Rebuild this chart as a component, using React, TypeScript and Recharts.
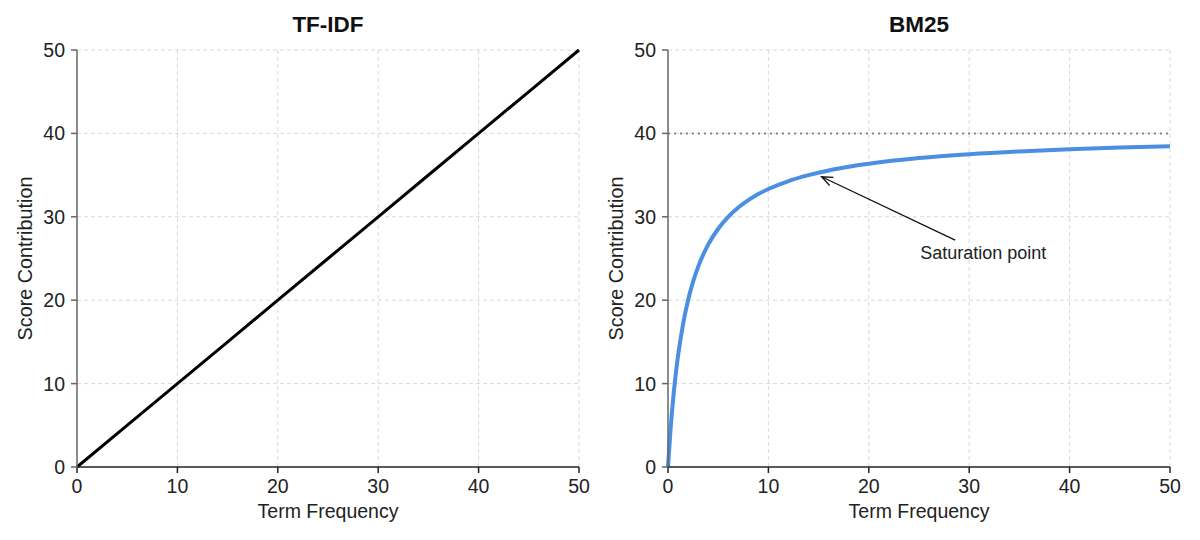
import React from "react";
import {
  LineChart,
  Line,
  XAxis,
  YAxis,
  CartesianGrid,
  ReferenceLine,
  ReferenceDot,
} from "recharts";

// ---- data ----
const tfidfFreq = [0, 10, 20, 30, 40, 50];
const tfidfScore = [0, 10, 20, 30, 40, 50];

const bm25Freq = [0, 0.25, 0.5, 0.75, 1, 1.5, 2, 2.5, 3, 4, 5, 6, 7, 8, 9, 10, 12, 14, 16, 18, 20, 25, 30, 35, 40, 45, 50];
const bm25Score = [0, 4.44, 8.0, 10.91, 13.33, 17.14, 20.0, 22.22, 24.0, 26.67, 28.57, 30.0, 31.11, 32.0, 32.73, 33.33, 34.29, 35.0, 35.56, 36.0, 36.36, 37.04, 37.5, 37.84, 38.1, 38.3, 38.46];

const axisTicks = [0, 10, 20, 30, 40, 50];
const saturationLimit = 40;
const annotationText = "Saturation point";
const arrowTail = { x: 28.6, y: 27.2 };
const arrowTip = { x: 15.3, y: 34.8 };
const annotationPos = { x: 31.4, y: 25.7 };

const tfidfData = tfidfFreq.map((f, i) => ({ tf: f, score: tfidfScore[i] }));
const bm25Data = bm25Freq.map((f, i) => ({ tf: f, score: bm25Score[i] }));

const FONT = "'Liberation Sans', Arial, sans-serif";
const tickStyle = { fontSize: 19.5, fill: "#222" };

const Arrow = (props: any) => {
  const { x1, y1, x2, y2 } = props;
  const dx = x2 - x1;
  const dy = y2 - y1;
  const len = Math.sqrt(dx * dx + dy * dy) || 1;
  const ux = dx / len;
  const uy = dy / len;
  const hl = 11;
  const hw = 4.5;
  const bx = x2 - ux * hl;
  const by = y2 - uy * hl;
  const px = -uy;
  const py = ux;
  return (
    <g>
      <line x1={x1} y1={y1} x2={x2} y2={y2} stroke="#111" strokeWidth={1.3} />
      <path
        d={`M${bx + px * hw},${by + py * hw} L${x2},${y2} L${bx - px * hw},${by - py * hw}`}
        fill="none"
        stroke="#111"
        strokeWidth={1.3}
      />
    </g>
  );
};

const AnnotationText = (props: any) => (
  <text
    x={props.cx}
    y={props.cy}
    textAnchor="middle"
    dominantBaseline="central"
    fontSize={18}
    fill="#222"
    fontFamily={FONT}
  >
    {annotationText}
  </text>
);

function Panel(props: {
  data: any[];
  title: string;
  left: number;
  width: number;
  yAxisWidth: number;
  rightMargin: number;
  labelOffset: number;
  stroke: string;
  strokeWidth: number;
  bm25?: boolean;
}) {
  const { data, title, left, width, yAxisWidth, rightMargin, labelOffset, stroke, strokeWidth, bm25 } = props;
  const plotLeft = yAxisWidth;
  const plotWidth = width - yAxisWidth - rightMargin;
  return (
    <div style={{ position: "absolute", left, top: 0, width, height: 540 }}>
      <div
        style={{
          position: "absolute",
          left: plotLeft,
          width: plotWidth,
          top: 12,
          textAlign: "center",
          fontWeight: "bold",
          fontSize: 22.5,
          color: "#111",
          fontFamily: FONT,
        }}
      >
        {title}
      </div>
      <LineChart
        width={width}
        height={540}
        data={data}
        margin={{ top: 50, right: rightMargin, left: 0, bottom: 0 }}
      >
        <CartesianGrid stroke="#d9d9d9" strokeDasharray="4 3" horizontalValues={[10, 20, 30, 40, 50]} verticalValues={[10, 20, 30, 40, 50]} />
        <XAxis
          dataKey="tf"
          type="number"
          domain={[0, 50]}
          ticks={axisTicks}
          interval={0}
          height={73}
          tick={tickStyle}
          tickSize={6}
          tickMargin={6}
          axisLine={{ stroke: "#222", strokeWidth: 1.5 }}
          tickLine={{ stroke: "#222", strokeWidth: 1.5 }}
          label={{ value: "Term Frequency", position: "insideBottom", offset: 22, style: { fontSize: 19.5, fill: "#222", textAnchor: "middle" } }}
        />
        <YAxis
          type="number"
          domain={[0, 50]}
          ticks={axisTicks}
          interval={0}
          width={yAxisWidth}
          tick={tickStyle}
          tickSize={6}
          tickMargin={6}
          axisLine={{ stroke: "#666", strokeWidth: 1.5 }}
          tickLine={{ stroke: "#666", strokeWidth: 1.5 }}
          label={{ value: "Score Contribution", angle: -90, position: "insideLeft", offset: labelOffset, style: { fontSize: 19.8, fill: "#222", textAnchor: "middle" } }}
        />
        {bm25 && (
          <ReferenceLine y={saturationLimit} stroke="#888" strokeWidth={2} strokeDasharray="2 4" />
        )}
        <Line
          type="monotone"
          dataKey="score"
          stroke={stroke}
          strokeWidth={strokeWidth}
          dot={false}
          isAnimationActive={false}
        />
        {bm25 && (
          <ReferenceLine
            segment={[arrowTail, arrowTip]}
            shape={(p: any) => <Arrow {...p} />}
          />
        )}
        {bm25 && (
          <ReferenceDot x={annotationPos.x} y={annotationPos.y} r={0} shape={(p: any) => <AnnotationText {...p} />} />
        )}
      </LineChart>
    </div>
  );
}

export default function App() {
  return (
    <div
      style={{
        position: "absolute",
        left: 0,
        top: 0,
        width: 1200,
        height: 540,
        background: "#fff",
        fontFamily: FONT,
      }}
    >
      <Panel
        data={tfidfData}
        title="TF-IDF"
        left={0}
        width={600}
        yAxisWidth={77}
        rightMargin={21}
        labelOffset={25}
        stroke="#000"
        strokeWidth={3}
      />
      <Panel
        data={bm25Data}
        title="BM25"
        left={600}
        width={600}
        yAxisWidth={68}
        rightMargin={30}
        labelOffset={16}
        stroke="#4a8fe2"
        strokeWidth={4}
        bm25
      />
    </div>
  );
}
